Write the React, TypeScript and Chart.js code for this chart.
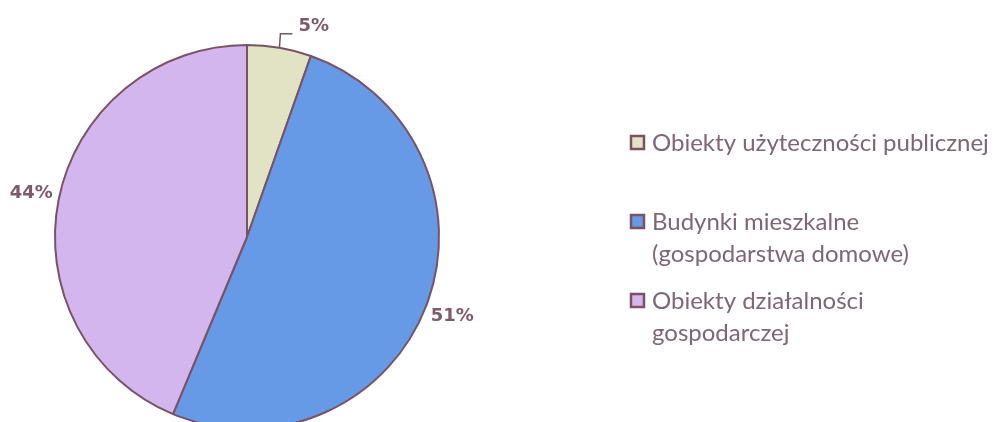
import { useEffect, useRef } from "react";
import { Chart, registerables } from "chart.js";

Chart.register(...registerables);

// ---- data ----
const categories = [
  "Obiekty użyteczności publicznej",
  "Budynki mieszkalne (gospodarstwa domowe)",
  "Obiekty działalności gospodarczej",
];
const legendLines = [
  ["Obiekty użyteczności publicznej"],
  ["Budynki mieszkalne", "(gospodarstwa domowe)"],
  ["Obiekty działalności", "gospodarczej"],
];
const shares = [5.4, 50.9, 43.7];
const percentLabels = ["5%", "51%", "44%"];
const sliceColors = ["#E2E2C4", "#6699E6", "#D3B6EE"];

const BORDER = "#7A5263";
const LABEL_COLOR = "#7D5A6B";
const LEGEND_COLOR = "#7E6675";

const outLabels = {
  id: "outLabels",
  afterDatasetsDraw(chart: any) {
    const ctx = chart.ctx;
    const meta = chart.getDatasetMeta(0);
    ctx.save();
    ctx.font = "bold 18px 'DejaVu Sans'";
    ctx.fillStyle = LABEL_COLOR;
    meta.data.forEach((arc: any, i: number) => {
      const { x, y, startAngle, endAngle, outerRadius } = arc.getProps(
        ["x", "y", "startAngle", "endAngle", "outerRadius"],
        true
      );
      const mid = (startAngle + endAngle) / 2;
      const frac = (endAngle - startAngle) / (2 * Math.PI);
      if (frac < 0.1) {
        const ax = x + Math.cos(mid) * outerRadius;
        const ay = y + Math.sin(mid) * outerRadius;
        ctx.strokeStyle = BORDER;
        ctx.lineWidth = 1.5;
        ctx.beginPath();
        ctx.moveTo(ax, ay);
        ctx.lineTo(ax + 1, ay - 14);
        ctx.lineTo(ax + 13, ay - 14);
        ctx.stroke();
        ctx.textAlign = "left";
        ctx.textBaseline = "middle";
        ctx.fillText(percentLabels[i], ax + 19, ay - 21);
      } else {
        const r = outerRadius + 28;
        ctx.textAlign = "center";
        ctx.textBaseline = "middle";
        ctx.fillText(percentLabels[i], x + Math.cos(mid) * r, y + Math.sin(mid) * r);
      }
    });
    ctx.restore();
  },
};

const sideLegend = {
  id: "sideLegend",
  afterDraw(chart: any) {
    const ctx = chart.ctx;
    const ds = chart.data.datasets[0];
    const boxX = 631;
    const box = 13;
    const tops = [136, 215, 294];
    const lineH = 32;
    ctx.save();
    ctx.font = "24px Lato";
    ctx.textAlign = "left";
    ctx.textBaseline = "middle";
    legendLines.forEach((lines, i) => {
      const top = tops[i];
      ctx.fillStyle = ds.backgroundColor[i];
      ctx.fillRect(boxX, top, box, box);
      ctx.strokeStyle = BORDER;
      ctx.lineWidth = 2.5;
      ctx.strokeRect(boxX, top, box, box);
      ctx.fillStyle = LEGEND_COLOR;
      lines.forEach((t, j) => {
        ctx.fillText(t, boxX + 21, top + box / 2 + 1 + j * lineH);
      });
    });
    ctx.restore();
  },
};

export default function App() {
  const ref = useRef<HTMLCanvasElement | null>(null);
  useEffect(() => {
    document.body.style.margin = "0";
    const canvas = ref.current;
    if (!canvas) return;
    const chart = new Chart(canvas, {
      type: "pie",
      data: {
        labels: categories,
        datasets: [
          {
            data: shares,
            backgroundColor: sliceColors,
            borderColor: BORDER,
            borderWidth: 2,
          },
        ],
      },
      options: {
        responsive: false,
        animation: false,
        devicePixelRatio: 1,
        radius: 192,
        layout: { padding: { left: 0, right: 501, top: 0, bottom: 6 } },
        plugins: {
          legend: { display: false },
          tooltip: { enabled: false },
        },
      } as any,
      plugins: [outLabels, sideLegend],
    });
    return () => chart.destroy();
  }, []);
  return (
    <div style={{ width: 995, height: 422, overflow: "hidden", position: "relative", background: "#fff" }}>
      <canvas ref={ref} width={995} height={480} style={{ display: "block" }} />
    </div>
  );
}
